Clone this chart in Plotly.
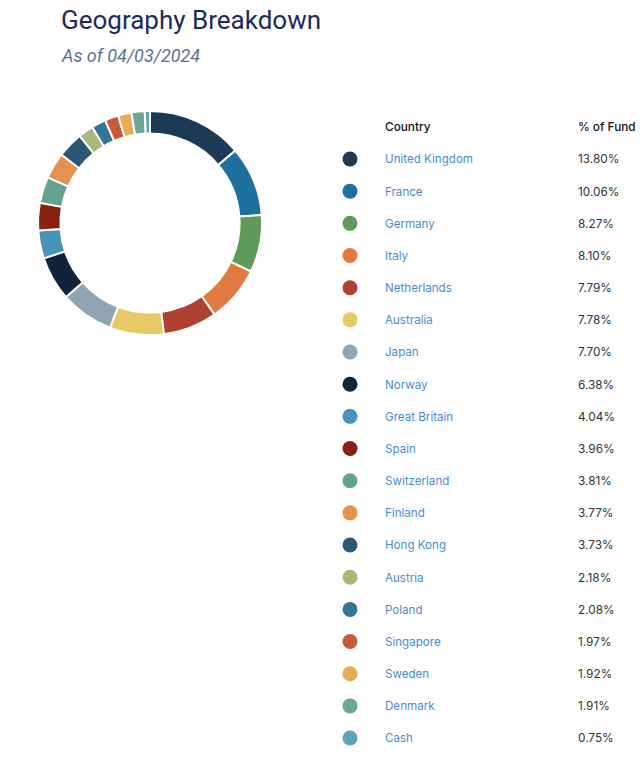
import plotly.graph_objects as go

countries = ["United Kingdom", "France", "Germany", "Italy", "Netherlands", "Australia",
             "Japan", "Norway", "Great Britain", "Spain", "Switzerland", "Finland",
             "Hong Kong", "Austria", "Poland", "Singapore", "Sweden", "Denmark", "Cash"]
weights = [13.80, 10.06, 8.27, 8.10, 7.79, 7.78, 7.70, 6.38, 4.04, 3.96, 3.81, 3.77,
           3.73, 2.18, 2.08, 1.97, 1.92, 1.91, 0.75]
colors = ["#1c3a56", "#1f6f9f", "#5e9a5a", "#e07a40", "#b04030", "#e6c865",
          "#90a4b1", "#10233a", "#4a93b8", "#8b1f12", "#64a38f", "#e59150",
          "#2a5874", "#a6b87a", "#367694", "#c95a35", "#e5ad55", "#6ea696", "#5da4b8"]
title = "Geography Breakdown"
subtitle = "As of 04/03/2024"
header_country = "Country"
header_pct = "% of Fund"

W, H = 640, 782
row0, rowstep = 159, 32.17
rows_y = [row0 + rowstep * i for i in range(len(countries))]
text_y = [y + 1.5 for y in rows_y]
pct_labels = [f"{v:.2f}%" for v in weights]

fig = go.Figure()

fig.add_trace(go.Pie(
    labels=countries, values=weights, sort=False, direction="clockwise", rotation=0,
    hole=0.80, marker=dict(colors=colors, line=dict(color="white", width=2)),
    textinfo="none", hoverinfo="label+percent", showlegend=False,
    domain=dict(x=[38 / W, 262 / W], y=[1 - 335 / H, 1 - 111 / H]),
))

fig.add_trace(go.Scatter(
    x=[350] * len(countries), y=rows_y, mode="markers",
    marker=dict(size=15, color=colors, line=dict(width=0)),
    hoverinfo="skip", showlegend=False,
))
fig.add_trace(go.Scatter(
    x=[385] * len(countries), y=text_y, mode="text", text=countries,
    textposition="middle right",
    textfont=dict(family="Inter", size=11.6, color="#4a8bd0"),
    hoverinfo="skip", showlegend=False,
))
fig.add_trace(go.Scatter(
    x=[578] * len(countries), y=text_y, mode="text", text=pct_labels,
    textposition="middle right",
    textfont=dict(family="Inter", size=11.8, color="#333333"),
    hoverinfo="skip", showlegend=False,
))
fig.add_trace(go.Scatter(
    x=[385, 578], y=[128.5, 128.5], mode="text", text=[header_country, header_pct],
    textposition="middle right",
    textfont=dict(family="Inter", size=11.8, color="#111111", weight=500),
    hoverinfo="skip", showlegend=False,
))

fig.update_layout(
    width=W, height=H, margin=dict(l=0, r=0, t=0, b=0),
    paper_bgcolor="white", plot_bgcolor="white",
    xaxis=dict(range=[0, W], visible=False, fixedrange=True),
    yaxis=dict(range=[H, 0], visible=False, fixedrange=True),
    annotations=[
        dict(text=title, x=59 / W, y=1 - 3 / H, xref="paper", yref="paper",
             xanchor="left", yanchor="top", showarrow=False,
             font=dict(family="Roboto", size=26, color="#1b2a5c")),
        dict(text=f"<i>{subtitle}</i>", x=59 / W, y=1 - 43 / H, xref="paper", yref="paper",
             xanchor="left", yanchor="top", showarrow=False,
             font=dict(family="Roboto", size=18, color="#5b7191")),
    ],
)

fig.write_html("out.html")
